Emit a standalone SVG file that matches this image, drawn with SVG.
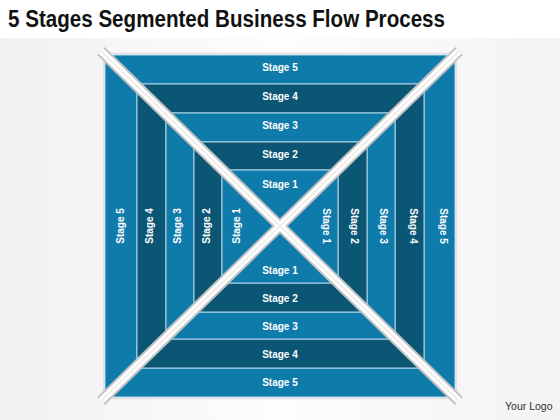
<svg xmlns="http://www.w3.org/2000/svg" width="560" height="420" viewBox="0 0 560 420">
<defs>
<linearGradient id="bg" x1="0" y1="0" x2="1" y2="0">
<stop offset="0" stop-color="#F1F1F1"/>
<stop offset="0.5" stop-color="#FDFDFD"/>
<stop offset="1" stop-color="#F3F3F3"/>
</linearGradient>
<style>
.lt{fill:#0F7BAA;stroke:#B4D8E8;stroke-width:1}
.dk{fill:#0B5575;stroke:#B4D8E8;stroke-width:1}
.lbl{font-family:"Liberation Sans",Arial,sans-serif;font-weight:bold;font-size:10px;fill:#FFFFFF;text-anchor:middle;dominant-baseline:central}
.diag-o{stroke:#C4C4C4;stroke-width:11;stroke-linecap:butt}
.diag-i{stroke:#FFFFFF;stroke-width:7;stroke-linecap:butt}
.diag-c{stroke:#EEEEEE;stroke-width:2}
</style>
</defs>
<rect x="0" y="0" width="560" height="420" fill="#FFFFFF"/>
<rect x="0" y="38" width="560" height="382" fill="url(#bg)"/>
<text x="8" y="27" font-family="Liberation Sans, Arial, sans-serif" font-weight="bold" font-size="23" fill="#111111" textLength="437" lengthAdjust="spacingAndGlyphs">5 Stages Segmented Business Flow Process</text>
<rect x="103.5" y="53.5" width="353" height="345" fill="none" stroke="#E2E2E2" stroke-width="1.5"/>

<g id="top-stage5"><polygon class="lt" points="105,55 455,55 424,84 137,84"/><text class="lbl" x="280" y="67">Stage 5</text></g>
<g id="top-stage4"><polygon class="dk" points="137,84 424,84 395,113 166,113"/><text class="lbl" x="280" y="96">Stage 4</text></g>
<g id="top-stage3"><polygon class="lt" points="166,113 395,113 367,142 194,142"/><text class="lbl" x="280" y="125">Stage 3</text></g>
<g id="top-stage2"><polygon class="dk" points="194,142 367,142 338,170 222,170"/><text class="lbl" x="280" y="154">Stage 2</text></g>
<g id="top-stage1"><polygon class="lt" points="222,170 338,170 280,226"/><text class="lbl" x="280" y="184">Stage 1</text></g>

<g id="bottom-stage5"><polygon class="lt" points="105,397 455,397 424,368 137,368"/><text class="lbl" x="280" y="382">Stage 5</text></g>
<g id="bottom-stage4"><polygon class="dk" points="137,368 424,368 395,339 166,339"/><text class="lbl" x="280" y="354">Stage 4</text></g>
<g id="bottom-stage3"><polygon class="lt" points="166,339 395,339 367,312 194,312"/><text class="lbl" x="280" y="326">Stage 3</text></g>
<g id="bottom-stage2"><polygon class="dk" points="194,312 367,312 338,283 222,283"/><text class="lbl" x="280" y="298">Stage 2</text></g>
<g id="bottom-stage1"><polygon class="lt" points="222,283 338,283 280,226"/><text class="lbl" x="280" y="270">Stage 1</text></g>

<g id="left-stage5"><polygon class="lt" points="105,55 137,84 137,368 105,397"/><text class="lbl" transform="translate(120,226) rotate(-90)">Stage 5</text></g>
<g id="left-stage4"><polygon class="dk" points="137,84 166,113 166,339 137,368"/><text class="lbl" transform="translate(149,226) rotate(-90)">Stage 4</text></g>
<g id="left-stage3"><polygon class="lt" points="166,113 194,142 194,312 166,339"/><text class="lbl" transform="translate(177,226) rotate(-90)">Stage 3</text></g>
<g id="left-stage2"><polygon class="dk" points="194,142 222,170 222,283 194,312"/><text class="lbl" transform="translate(206,226) rotate(-90)">Stage 2</text></g>
<g id="left-stage1"><polygon class="lt" points="222,170 280,226 222,283"/><text class="lbl" transform="translate(236,226) rotate(-90)">Stage 1</text></g>

<g id="right-stage5"><polygon class="lt" points="455,55 424,84 424,368 455,397"/><text class="lbl" transform="translate(443,226) rotate(90)">Stage 5</text></g>
<g id="right-stage4"><polygon class="dk" points="424,84 395,113 395,339 424,368"/><text class="lbl" transform="translate(413,226) rotate(90)">Stage 4</text></g>
<g id="right-stage3"><polygon class="lt" points="395,113 367,142 367,312 395,339"/><text class="lbl" transform="translate(383,226) rotate(90)">Stage 3</text></g>
<g id="right-stage2"><polygon class="dk" points="367,142 338,170 338,283 367,312"/><text class="lbl" transform="translate(354,226) rotate(90)">Stage 2</text></g>
<g id="right-stage1"><polygon class="lt" points="338,170 280,226 338,283"/><text class="lbl" transform="translate(326,226) rotate(90)">Stage 1</text></g>

<g id="connectors">
<line class="diag-o" x1="101" y1="51" x2="459" y2="401"/>
<line class="diag-o" x1="459" y1="51" x2="101" y2="401"/>
<line class="diag-i" x1="101" y1="51" x2="459" y2="401"/>
<line class="diag-i" x1="459" y1="51" x2="101" y2="401"/>
<line class="diag-c" x1="101" y1="51" x2="459" y2="401"/>
<line class="diag-c" x1="459" y1="51" x2="101" y2="401"/>
</g>

<text x="505" y="410" font-family="Liberation Sans, Arial, sans-serif" font-size="10.5" fill="#333333">Your Logo</text>
</svg>
